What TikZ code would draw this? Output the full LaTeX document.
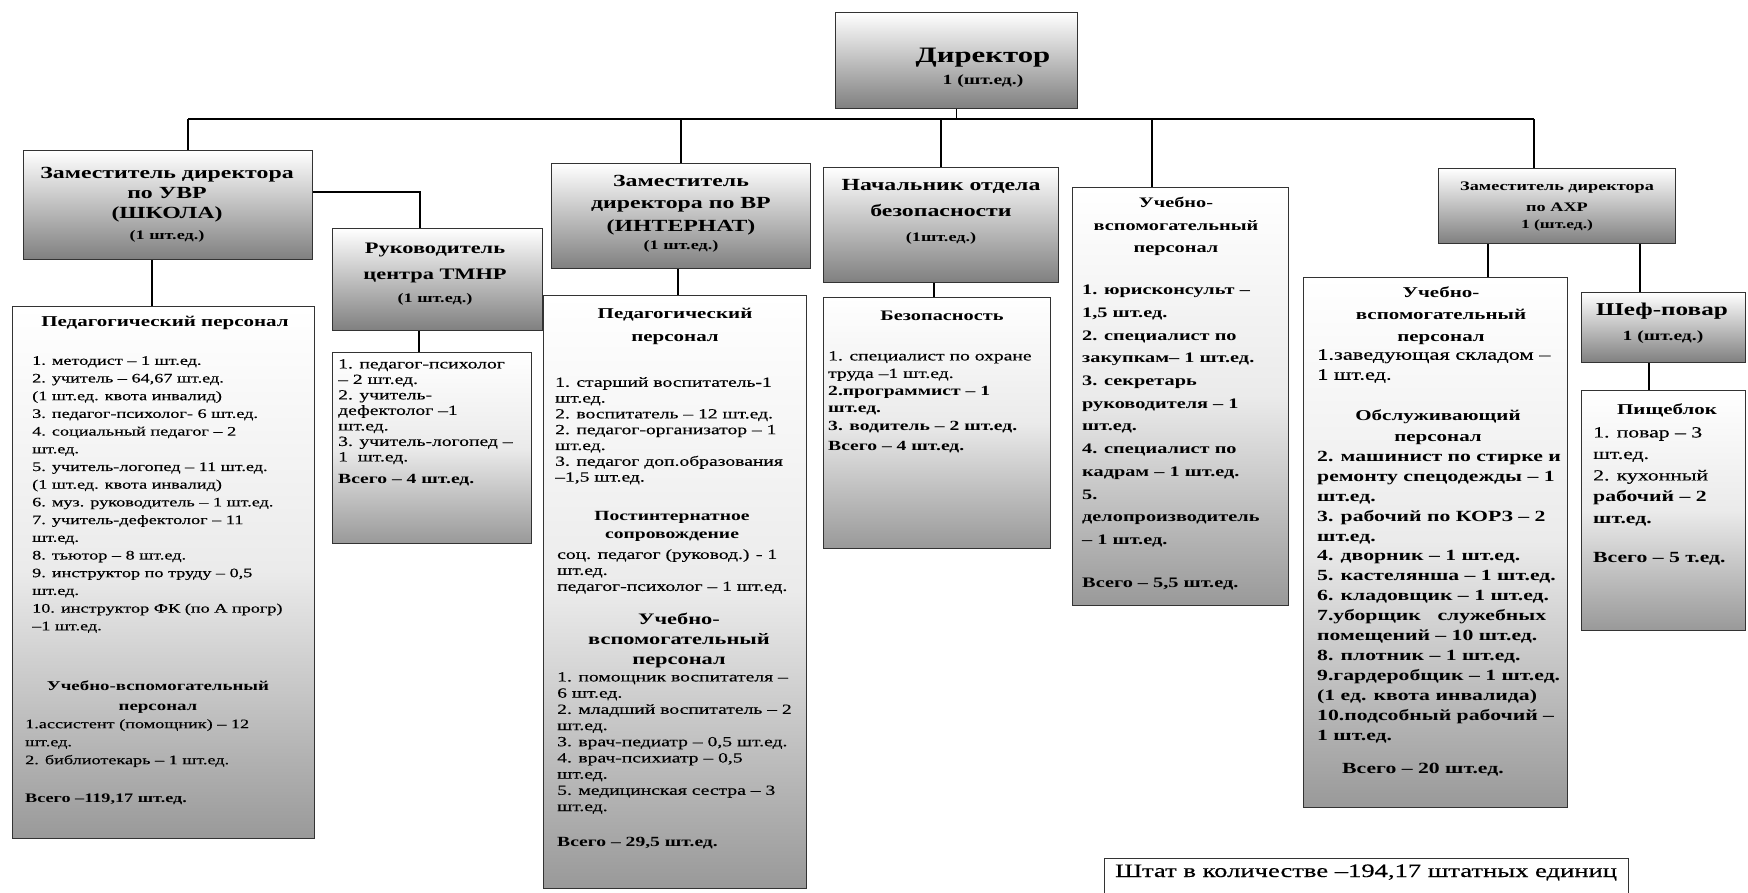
\documentclass[tikz,border=0pt]{standalone}
\usepackage{fontspec}
\setmainfont{Liberation Serif}[FakeStretch=1.4, UprightFeatures={FakeBold=0.35}]
\newcommand{\myfs}[2]{\fontsize{#1}{#2}\selectfont}
\begin{document}
\begin{tikzpicture}[x=1pt,y=1pt,
  hbox/.style={draw=black!80, line width=1.1pt, top color=white, bottom color=black!50, inner sep=0pt, anchor=north west},
  lbox/.style={draw=black!80, line width=1.1pt, top color=white, bottom color=black!40, middle color=black!8, inner sep=0pt, anchor=north west},
  conn/.style={draw=black, line width=1.3pt},
  tl/.style={inner sep=0pt, align=left, anchor=north west},
  tc/.style={inner sep=0pt, align=center, anchor=north},
  tb/.style={inner sep=0pt, anchor=base},
]
\useasboundingbox (0,0) rectangle (1748,-893);
\clip (0,0) rectangle (1748,-893);
\fill[white] (0,0) rectangle (1748,-893);

% boxes
\node[hbox, minimum width=242pt, minimum height=96pt] (dir) at (835,-12) {};
\node[hbox, minimum width=289pt, minimum height=109pt] (uvr) at (23,-150) {};
\node[lbox, minimum width=302pt, minimum height=532pt] (uvrL) at (12,-306) {};
\node[hbox, minimum width=210pt, minimum height=102pt] (tmnr) at (332,-228) {};
\node[lbox, minimum width=199pt, minimum height=191pt] (tmnrL) at (332,-352) {};
\node[hbox, minimum width=259pt, minimum height=105pt] (int) at (551,-163) {};
\node[lbox, minimum width=263pt, minimum height=593pt] (intL) at (543,-295) {};
\node[hbox, minimum width=235pt, minimum height=115pt] (bez) at (823,-167) {};
\node[lbox, minimum width=227pt, minimum height=251pt] (bezL) at (823,-297) {};
\node[lbox, minimum width=216pt, minimum height=418pt] (uvp) at (1072,-187) {};
\node[hbox, minimum width=237pt, minimum height=75pt] (axp) at (1438,-168) {};
\node[lbox, minimum width=264pt, minimum height=530pt] (axpL) at (1303,-277) {};
\node[hbox, minimum width=164pt, minimum height=70pt] (chef) at (1581,-292) {};
\node[lbox, minimum width=164pt, minimum height=240pt] (food) at (1581,-390) {};
\node[draw=black!80, line width=1pt, fill=white, minimum width=524pt, minimum height=50pt, anchor=north west, inner sep=0pt] (note) at (1104,-858) {};

% connectors
\coordinate (busL) at (188,-119);
\coordinate (busR) at (1534,-119);
\draw[conn] (busL) -- (busR);
\draw[conn] (dir.south) -- (dir.south |- busL);
\draw[conn] (busL) -- (busL |- uvr.north);
\draw[conn] (int.north) -- (int.north |- busL);
\draw[conn] (bez.north) -- (bez.north |- busL);
\coordinate (xUvp) at (1152,-119);
\draw[conn] (xUvp) -- (xUvp |- uvp.north);
\draw[conn] (busR) -- (busR |- axp.north);
\coordinate (j1) at (420,-192);
\draw[conn] (uvr.east |- j1) -- (j1) -- (j1 |- tmnr.north);
\coordinate (c1) at (152,0);
\draw[conn] (uvr.south -| c1) -- (uvrL.north -| c1);
\coordinate (c2) at (419,0);
\draw[conn] (tmnr.south -| c2) -- (tmnrL.north -| c2);
\coordinate (c3) at (678,0);
\draw[conn] (int.south -| c3) -- (intL.north -| c3);
\coordinate (c4) at (934,0);
\draw[conn] (bez.south -| c4) -- (bezL.north -| c4);
\coordinate (c5) at (1488,0);
\draw[conn] (axp.south -| c5) -- (axpL.north -| c5);
\coordinate (c6) at (1640,0);
\draw[conn] (axp.south -| c6) -- (chef.north -| c6);
\coordinate (c7) at (1649,0);
\draw[conn] (chef.south -| c7) -- (food.north -| c7);

% Director
\node[tb] (tDir1) at (983,-63) {\myfs{22}{26}\bfseries Директор};
\node[tb] (tDir2) at (983,-85) {\myfs{14}{16}\bfseries 1 (шт.ед.)};

% UVR
\node[tc, font={\myfs{17}{20}\bfseries}] (tUvr) at (167,-167) {Заместитель директора\\по УВР\\(ШКОЛА)\\[1pt]{\myfs{13}{15}(1 шт.ед.)}};
\node[tc, font={\myfs{15}{18}\bfseries}] (tUvrH) at (165,-316) {Педагогический персонал};
\node[tl, font={\myfs{13}{17.7}}] (tUvr1) at (32,-356) {1. методист – 1 шт.ед.\\2. учитель – 64,67 шт.ед.\\(1 шт.ед. квота инвалид)\\3. педагог-психолог- 6 шт.ед.\\4. социальный педагог – 2\\шт.ед.\\5. учитель-логопед – 11 шт.ед.\\(1 шт.ед. квота инвалид)\\6. муз. руководитель – 1 шт.ед.\\7. учитель-дефектолог – 11\\шт.ед.\\8. тьютор – 8 шт.ед.\\9. инструктор по труду – 0,5\\шт.ед.\\10. инструктор ФК (по А прогр)\\–1 шт.ед.};
\node[tc, font={\myfs{13.5}{20}\bfseries}] (tUvrH2) at (158,-681) {Учебно-вспомогательный\\персонал};
\node[tl, font={\myfs{13}{18}}] (tUvr2) at (25,-719) {1.ассистент (помощник) – 12\\шт.ед.\\2. библиотекарь – 1 шт.ед.};
\node[tl, font={\myfs{13}{16}\bfseries}] (tUvr3) at (25,-794) {Всего –119,17 шт.ед.};

% TMNR
\node[tc, font={\myfs{16}{26}\bfseries}] (tTm) at (435,-243) {Руководитель\\центра ТМНР\\[-3pt]{\myfs{13}{15}(1 шт.ед.)}};
\node[tl, font={\myfs{14}{15.5}}] (tTmL) at (338,-359) {1. педагог-психолог\\– 2 шт.ед.\\2. учитель-\\дефектолог –1\\шт.ед.\\3. учитель-логопед –\\1 \ шт.ед.\\[7pt]\textbf{Всего – 4 шт.ед.}};

% Internat
\node[tc, font={\myfs{17}{22.5}\bfseries}] (tInt) at (681,-175) {Заместитель\\директора по ВР\\(ИНТЕРНАТ)\\[-4pt]{\myfs{13}{15}(1 шт.ед.)}};
\node[tc, font={\myfs{15}{23}\bfseries}] (tIntH) at (675,-308) {Педагогический\\персонал};
\node[tl, font={\myfs{14}{15.8}}] (tInt1) at (555,-377) {1. старший воспитатель-1\\шт.ед.\\2. воспитатель – 12 шт.ед.\\2. педагог-организатор – 1\\шт.ед.\\3. педагог доп.образования\\–1,5 шт.ед.};
\node[tc, font={\myfs{14}{18}\bfseries}] (tIntH2) at (672,-511) {Постинтернатное\\сопровождение};
\node[tl, font={\myfs{14}{16}}] (tInt2) at (557,-549) {соц. педагог (руковод.) - 1\\шт.ед.\\педагог-психолог – 1 шт.ед.};
\node[tc, font={\myfs{16}{20}\bfseries}] (tIntH3) at (679,-613) {Учебно-\\вспомогательный\\персонал};
\node[tl, font={\myfs{14}{16.2}}] (tInt3) at (557,-672) {1. помощник воспитателя –\\6 шт.ед.\\2. младший воспитатель – 2\\шт.ед.\\3. врач-педиатр – 0,5 шт.ед.\\4. врач-психиатр – 0,5\\шт.ед.\\5. медицинская сестра – 3\\шт.ед.};
\node[tl, font={\myfs{14}{16}\bfseries}] (tInt4) at (557,-837) {Всего – 29,5 шт.ед.};

% Bezopasnost
\node[tc, font={\myfs{17}{26}\bfseries}] (tBez) at (941,-179) {Начальник отдела\\безопасности\\[-1pt]{\myfs{13}{15}(1шт.ед.)}};
\node[tc, font={\myfs{14.5}{17}\bfseries}] (tBezH) at (942,-311) {Безопасность};
\node[tl, font={\myfs{14}{17.5}}] (tBez1) at (828,-351) {1. специалист по охране\\труда –1 шт.ед.\\\textbf{2.программист – 1}\\\textbf{шт.ед.}\\\textbf{3. водитель – 2 шт.ед.}\\[2.5pt]\textbf{Всего – 4 шт.ед.}};

% Uchebno-vspomogatelny (middle)
\node[tc, font={\myfs{14.5}{22.5}\bfseries}] (tUvpH) at (1176,-197) {Учебно-\\вспомогательный\\персонал};
\node[tl, font={\myfs{14.5}{22.7}\bfseries}] (tUvp1) at (1082,-285) {1. юрисконсульт –\\1,5 шт.ед.\\2. специалист по\\закупкам– 1 шт.ед.\\3. секретарь\\руководителя – 1\\шт.ед.\\4. специалист по\\кадрам – 1 шт.ед.\\5.\\делопроизводитель\\– 1 шт.ед.};
\node[tl, font={\myfs{14.5}{17}\bfseries}] (tUvp2) at (1082,-578) {Всего – 5,5 шт.ед.};

% AXP
\node[tc, font={\myfs{13}{20.5}\bfseries}] (tAxp) at (1557,-182) {Заместитель директора\\по АХР\\[-3pt]{\myfs{12.5}{15}1 (шт.ед.)}};
\node[tc, font={\myfs{15}{22}\bfseries}] (tAxpH) at (1441,-287) {Учебно-\\вспомогательный\\персонал};
\node[tl, font={\myfs{16}{20}}] (tAxp1) at (1317,-349) {1.заведующая складом –\\1 шт.ед.};
\node[tc, font={\myfs{15}{21}\bfseries}] (tAxpH2) at (1438,-410) {Обслуживающий\\персонал};
\node[tl, font={\myfs{15.5}{19.9}\bfseries}] (tAxp2) at (1317,-451) {2. машинист по стирке и\\ремонту спецодежды – 1\\шт.ед.\\3. рабочий по КОРЗ – 2\\шт.ед.\\4. дворник – 1 шт.ед.\\5. кастелянша – 1 шт.ед.\\6. кладовщик – 1 шт.ед.\\\makebox[229pt][s]{7.уборщик служебных}\\помещений – 10 шт.ед.\\8. плотник – 1 шт.ед.\\9.гардеробщик – 1 шт.ед.\\(1 ед. квота инвалида)\\10.подсобный рабочий –\\1 шт.ед.};
\node[tl, font={\myfs{15.5}{18}\bfseries}] (tAxp3) at (1342,-763) {Всего – 20 шт.ед.};

% Chef
\node[tb] (tChef1) at (1662,-316) {\myfs{18}{20}\bfseries Шеф-повар};
\node[tb] (tChef2) at (1663,-340) {\myfs{14}{16}\bfseries 1 (шт.ед.)};
\node[tc, font={\myfs{15}{18}\bfseries}] (tFoodH) at (1667,-404) {Пищеблок};
\node[tl, font={\myfs{15.5}{21.5}}] (tFood1) at (1593,-427) {1. повар – 3\\шт.ед.\\2. кухонный\\\textbf{рабочий – 2}\\\textbf{шт.ед.}\\[18pt]\textbf{Всего – 5 т.ед.}};

% Note
\node[inner sep=0pt, anchor=base west] (tNote) at (1115,-877) {\myfs{19}{22}Штат в количестве –194,17 штатных единиц};
\end{tikzpicture}
\end{document}
